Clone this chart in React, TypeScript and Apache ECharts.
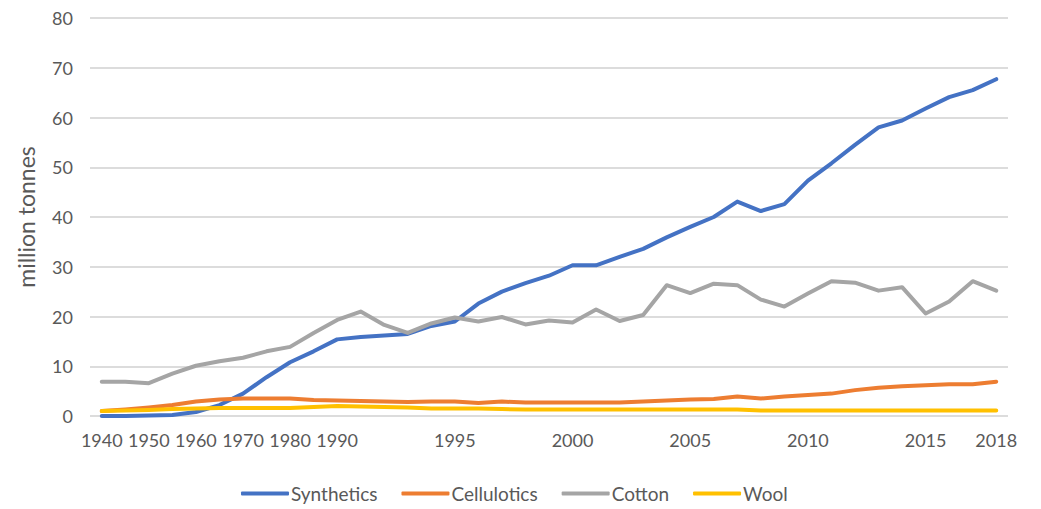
import React, { useEffect, useRef } from "react";
import * as echarts from "echarts";

const years = [
  "1940", "1945", "1950", "1955", "1960", "1965", "1970", "1975", "1980", "1985",
  "1990", "1991", "1992", "1993", "1994", "1995", "1996", "1997", "1998", "1999",
  "2000", "2001", "2002", "2003", "2004", "2005", "2006", "2007", "2008", "2009",
  "2010", "2011", "2012", "2013", "2014", "2015", "2016", "2017", "2018",
];

const tickLabels = ["1940", "1950", "1960", "1970", "1980", "1990", "1995", "2000", "2005", "2010", "2015", "2018"];

const synthetics = [
  0.0, 0.0, 0.1, 0.2, 0.8, 2.2, 4.5, 7.8, 10.8, 13.0,
  15.4, 15.9, 16.2, 16.5, 18.1, 19.0, 22.6, 25.0, 26.7, 28.2,
  30.3, 30.3, 32.0, 33.6, 35.9, 38.0, 40.0, 43.1, 41.2, 42.6,
  47.3, 50.8, 54.5, 58.0, 59.4, 61.8, 64.1, 65.5, 67.7,
];

const cellulotics = [
  1.0, 1.3, 1.7, 2.2, 2.9, 3.3, 3.5, 3.5, 3.5, 3.2,
  3.1, 3.0, 2.9, 2.8, 2.9, 2.9, 2.6, 2.9, 2.7, 2.7,
  2.7, 2.7, 2.7, 2.9, 3.1, 3.3, 3.4, 3.9, 3.5, 3.9,
  4.2, 4.5, 5.2, 5.7, 6.0, 6.2, 6.4, 6.4, 6.9,
];

const cotton = [
  6.9, 6.9, 6.6, 8.5, 10.1, 11.0, 11.7, 13.0, 13.9, 16.7,
  19.3, 21.0, 18.3, 16.7, 18.6, 19.8, 19.0, 19.9, 18.4, 19.2,
  18.8, 21.4, 19.1, 20.3, 26.3, 24.7, 26.6, 26.3, 23.4, 22.0,
  24.6, 27.1, 26.8, 25.2, 25.9, 20.6, 23.0, 27.1, 25.2,
];

const wool = [
  1.0, 1.1, 1.2, 1.4, 1.5, 1.6, 1.6, 1.6, 1.6, 1.8,
  2.0, 1.9, 1.8, 1.7, 1.5, 1.5, 1.5, 1.4, 1.3, 1.3,
  1.3, 1.3, 1.3, 1.3, 1.3, 1.3, 1.3, 1.3, 1.1, 1.1,
  1.1, 1.1, 1.1, 1.1, 1.1, 1.1, 1.1, 1.1, 1.1,
];

const seriesNames = ["Synthetics", "Cellulotics", "Cotton", "Wool"];
const seriesColors = ["#4472C4", "#ED7D31", "#A5A5A5", "#FFC000"];
const seriesData = [synthetics, cellulotics, cotton, wool];

const FONT = "Lato, 'Noto Sans', sans-serif";
const TEXT = "#595959";

export default function App() {
  const ref = useRef<HTMLDivElement>(null);
  useEffect(() => {
    if (!ref.current) return;
    const chart = echarts.init(ref.current, undefined, { renderer: "svg" });
    chart.setOption({
      animation: false,
      textStyle: { fontFamily: FONT },
      grid: { left: 82, right: 25, top: 10, bottom: 93, containLabel: false, outerBoundsMode: "none" },
      legend: {
        data: seriesNames,
        top: 476,
        left: 233,
        padding: 0,
        icon: "roundRect",
        itemWidth: 48,
        itemHeight: 4,
        itemGap: 24,
        textStyle: { color: TEXT, fontSize: 19, fontFamily: FONT, padding: [0, 0, 0, -3] },
      },
      xAxis: {
        type: "category",
        data: years,
        boundaryGap: true,
        axisLine: { show: false },
        axisTick: { show: false },
        axisLabel: {
          color: TEXT,
          fontSize: 18,
          fontFamily: FONT,
          margin: 15,
          hideOverlap: false,
          interval: (_i: number, v: string) => tickLabels.includes(v),
        },
      },
      yAxis: {
        type: "value",
        min: 0,
        max: 80,
        interval: 10,
        name: "million tonnes",
        nameLocation: "middle",
        nameRotate: 90,
        nameGap: 53,
        nameTextStyle: { color: TEXT, fontSize: 23, fontFamily: FONT },
        axisLabel: { color: TEXT, fontSize: 18, fontFamily: FONT, margin: 17 },
        splitLine: { lineStyle: { color: "#dcdcdc", width: 2 } },
        axisLine: { show: false },
        axisTick: { show: false },
      },
      series: seriesNames.map((name, i) => ({
        name,
        type: "line",
        data: seriesData[i],
        symbol: "none",
        color: seriesColors[i],
        lineStyle: { color: seriesColors[i], width: 4, cap: "round", join: "round" },
        z: i === 3 ? 5 : 2,
      })),
    });
    return () => chart.dispose();
  }, []);
  return (
    <div
      ref={ref}
      style={{ position: "absolute", left: 8, top: 8, width: 1025, height: 501 }}
    />
  );
}
